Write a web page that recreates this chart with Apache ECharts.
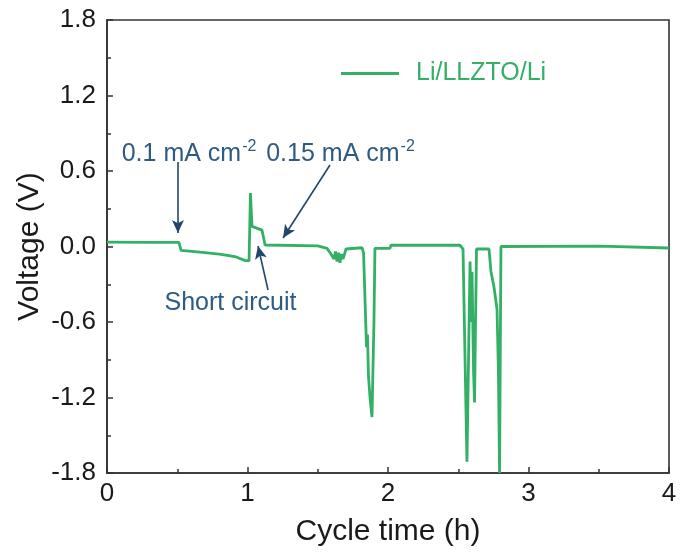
<!DOCTYPE html>
<html>
<head>
<meta charset="utf-8">
<script src="https://cdn.jsdelivr.net/npm/echarts@6/dist/echarts.min.js"></script>
<style>
  html, body { margin: 0; padding: 0; background: #fff; }
  #chart { width: 681px; height: 556px; }
</style>
</head>
<body>
<div id="chart"></div>
<script>
// Galvanostatic cycling trace of a symmetric Li/LLZTO/Li cell
const seriesName = 'Li/LLZTO/Li';
const timeH = [
  0.00, 0.30, 0.512, 0.527, 0.66, 0.80, 0.91, 0.98, 1.011, 1.021, 1.032, 1.103, 1.125,
  1.50, 1.566, 1.594, 1.616, 1.626, 1.637, 1.648, 1.658, 1.669, 1.68, 1.701, 1.815,
  1.826, 1.847, 1.854, 1.861, 1.872, 1.886, 1.90, 1.907, 2.014, 2.021, 2.512, 2.534,
  2.555, 2.562, 2.573, 2.584, 2.594, 2.598, 2.609, 2.616, 2.623, 2.63, 2.719, 2.733,
  2.754, 2.776, 2.786, 2.794, 2.801, 2.804, 3.509, 3.516, 4.00
];
const voltage = [
  0.035, 0.032, 0.032, -0.03, -0.045, -0.06, -0.08, -0.11, -0.115, 0.425, 0.16, 0.13, 0.012,
  0.005, -0.015, -0.06, -0.10, -0.04, -0.12, -0.05, -0.13, -0.06, -0.10, -0.02, -0.01,
  -0.05, -0.80, -0.70, -1.03, -1.20, -1.355, -0.60, -0.015, -0.015, 0.01, 0.01, -0.02,
  -1.30, -1.71, -0.90, -0.12, -0.60, -0.20, -1.00, -1.24, -0.60, -0.02, -0.02, -0.20,
  -0.32, -0.50, -1.00, -1.80, -0.50, 0.00, 0.003, -0.012, -0.012
];
const xTicks = { min: 0, max: 4, interval: 1 };
const yTicks = { min: -1.8, max: 1.8, interval: 0.6 };

// annotation arrows, tail -> head, in data units (h, V)
const arrows = [
  [[0.505, 0.672], [0.505, 0.107]],
  [[1.587, 0.648], [1.253, 0.068]],
  [[1.146, -0.346], [1.075, 0.004]]
];
// annotation labels: anchor (h, V) and text
const notes = [
  { at: [0.584, 0.735], text: '{base|0.1 mA cm}{sup|-2}' },
  { at: [1.662, 0.735], text: '{base|0.15 mA cm}{sup|-2}' },
  { at: [0.879, -0.449], text: '{base|Short circuit}' }
];

const lineColor = '#33b065';
const noteColor = '#2d5b84';
const arrowColor = '#22466b';
const axisColor = '#333';
const textColor = '#1a1a1a';
const font = 'Liberation Sans, Arial, sans-serif';

const chart = echarts.init(document.getElementById('chart'), null, { renderer: 'canvas' });

const points = timeH.map((t, i) => [t, voltage[i]]);

const noteRich = {
  base: { fontSize: 25, color: noteColor, fontFamily: font, lineHeight: 30 },
  sup: { fontSize: 16, color: noteColor, fontFamily: font, verticalAlign: 'top', lineHeight: 30, padding: [0, 0, 12, 1] }
};

const axisCommon = {
  type: 'value',
  nameLocation: 'middle',
  nameMoveOverlap: false,
  nameTextStyle: { fontSize: 30, color: textColor, fontFamily: font },
  axisLine: { show: true, onZero: false, lineStyle: { color: axisColor, width: 1.6 } },
  axisTick: { show: true, inside: true, length: 6, lineStyle: { color: axisColor, width: 1.5 } },
  minorTick: { show: true, splitNumber: 2, length: 4, lineStyle: { color: axisColor, width: 1.5 } },
  splitLine: { show: false }
};

chart.setOption({
  animation: false,
  grid: {
    left: 107, right: 12, top: 20, bottom: 83,
    show: true, borderColor: axisColor, borderWidth: 1.6, backgroundColor: 'transparent'
  },
  legend: {
    data: [seriesName],
    left: 336, top: 56,
    icon: 'rect', itemWidth: 58, itemHeight: 3,
    textStyle: { color: lineColor, fontSize: 25, fontFamily: font, padding: [0, 0, 0, 12] }
  },
  xAxis: Object.assign({}, axisCommon, {
    min: xTicks.min, max: xTicks.max, interval: xTicks.interval,
    name: 'Cycle time (h)', nameGap: 44,
    axisLabel: { fontSize: 26, color: textColor, fontFamily: font, margin: 8 }
  }),
  yAxis: Object.assign({}, axisCommon, {
    min: yTicks.min, max: yTicks.max, interval: yTicks.interval,
    name: 'Voltage (V)', nameGap: 62,
    axisLabel: {
      fontSize: 26, color: textColor, fontFamily: font, margin: 11,
      formatter: v => v.toFixed(1)
    }
  }),
  series: [{
    name: seriesName,
    type: 'line',
    data: points,
    showSymbol: false,
    symbol: 'none',
    lineStyle: { color: lineColor, width: 2.8 },
    itemStyle: { color: lineColor },
    markLine: {
      silent: true,
      symbol: ['none', 'arrow'],
      symbolSize: [9, 13],
      label: { show: false },
      lineStyle: { color: arrowColor, width: 1.6, type: 'solid' },
      data: arrows.map(a => [{ coord: a[0] }, { coord: a[1] }])
    },
    markPoint: {
      silent: true,
      symbol: 'circle', symbolSize: 0,
      data: notes.map(n => ({
        coord: n.at,
        label: { show: true, position: 'inside', formatter: n.text, rich: noteRich }
      }))
    }
  }]
});
</script>
</body>
</html>
